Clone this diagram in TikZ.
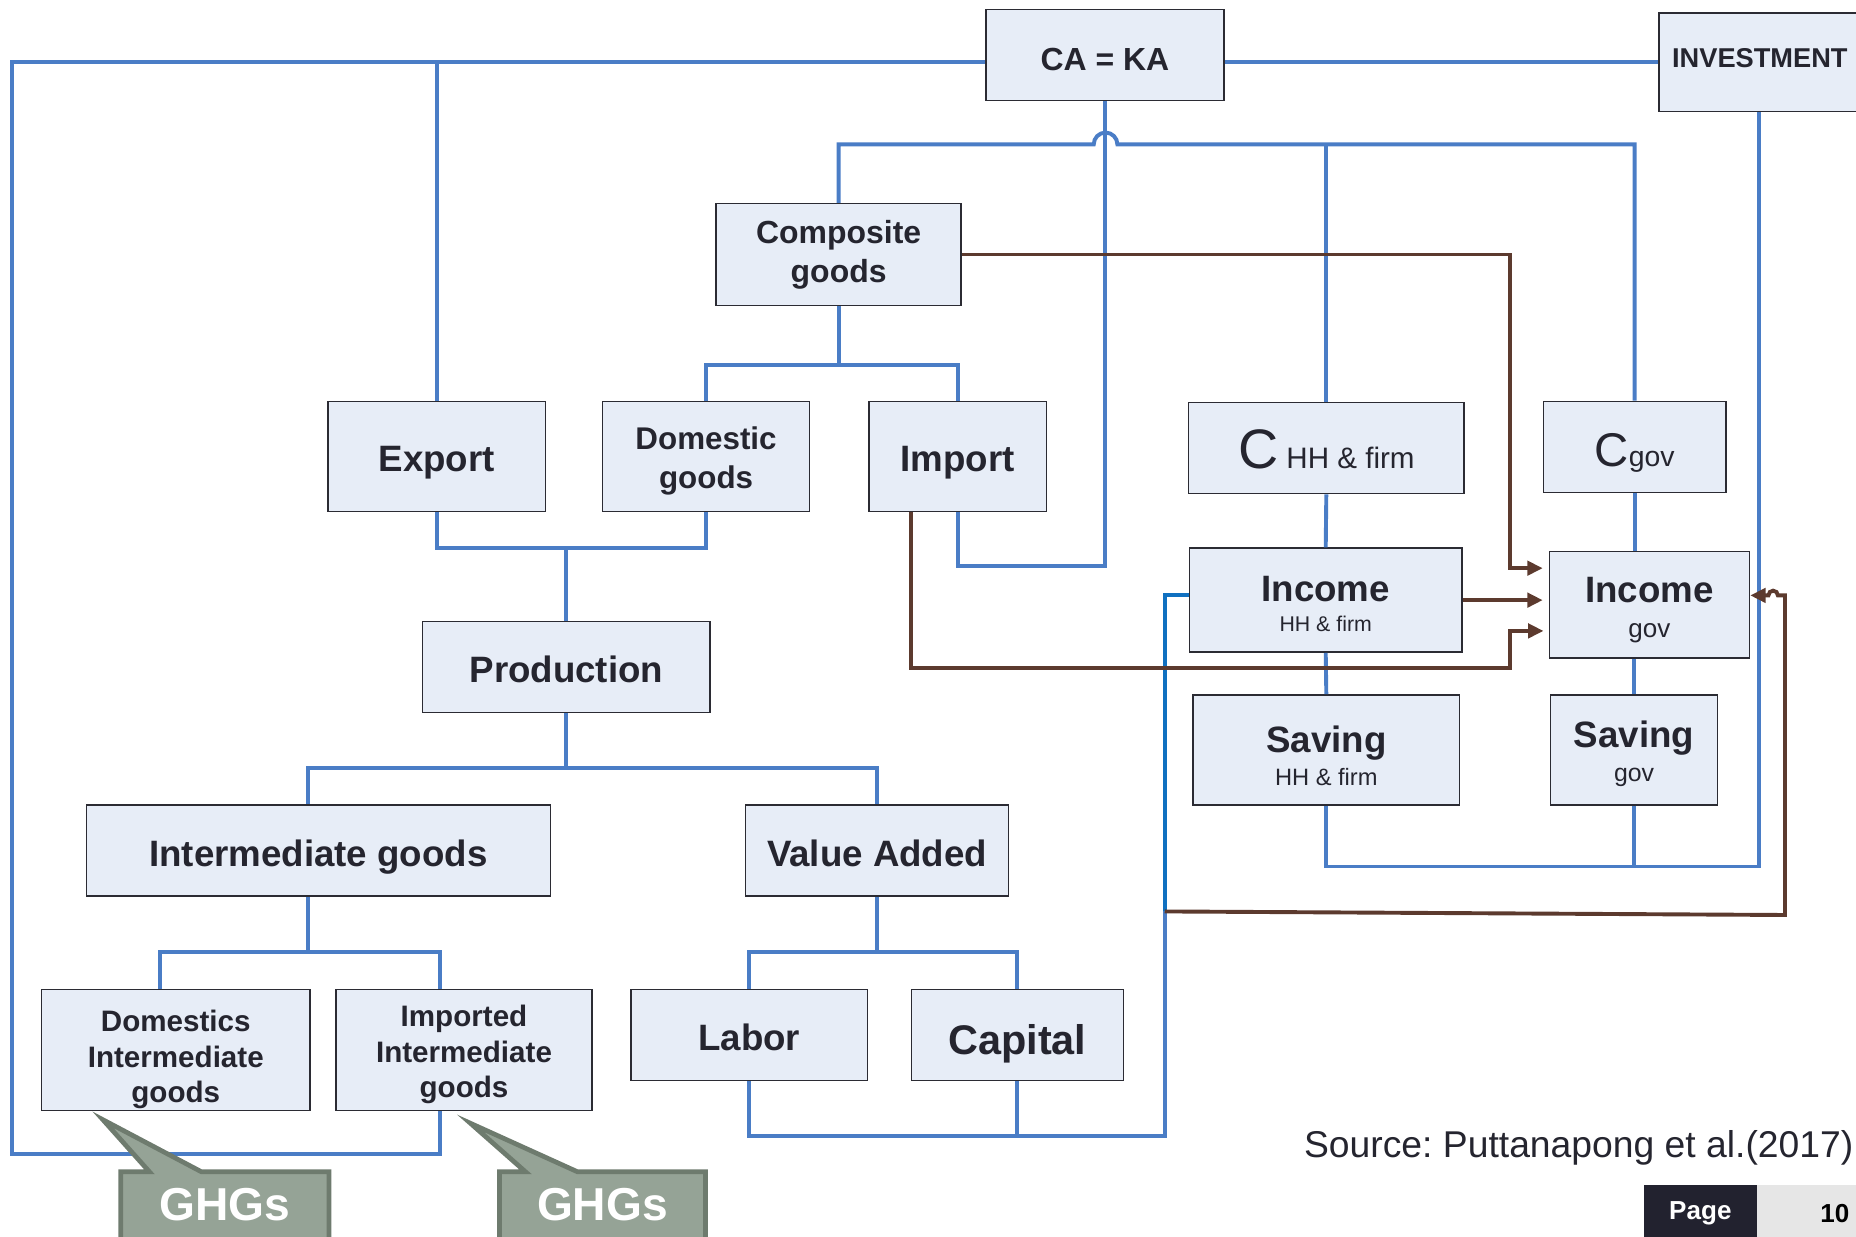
\documentclass[tikz,border=0pt]{standalone}
\usepackage{fontspec}
\setmainfont{Liberation Sans}
\usepackage{xcolor}
\usepackage{tikz}
\usetikzlibrary{arrows.meta,shapes.callouts}
\definecolor{boxfill}{HTML}{E7EDF7}
\definecolor{boxline}{HTML}{2B2B33}
\definecolor{linkblue}{HTML}{4A7DC6}
\definecolor{satblue}{HTML}{1070C0}
\definecolor{flowbrown}{HTML}{5C3A2E}
\definecolor{txt}{HTML}{25252F}
\definecolor{ghgfill}{HTML}{95A396}
\definecolor{ghgline}{HTML}{6E7B6E}
\definecolor{pagedark}{HTML}{22222F}
\definecolor{pagelight}{HTML}{E6E6E6}
\newcommand{\fsz}[2]{\fontsize{#1}{#2}\selectfont}
\newcommand{\pad}[1]{\rule{0pt}{#1pt}}
\frenchspacing

\begin{document}
\begin{tikzpicture}[x=1pt,y=-1pt,
	box/.style={draw=boxline,fill=boxfill,line width=1.3pt,inner sep=0pt,align=center,text=txt,font=\bfseries},
	link/.style={draw=linkblue,line width=3.3pt},
	flow/.style={draw=flowbrown,line width=3.3pt,-{Triangle[length=13pt,width=12pt]},shorten >=5pt},
	ghg/.style={rectangle callout,draw=ghgline,fill=ghgfill,line width=4pt,minimum width=176pt,minimum height=60pt,callout pointer width=44pt,text=white,font=\fsz{39}{42}\bfseries}]
	\useasboundingbox (0,0) rectangle (1568,1045);
	\clip (0,0) rectangle (1568,1045);
	\node[box,minimum width=201pt,minimum height=77pt,text height=25.6pt,text depth=0pt,font=\fsz{27}{30}\bfseries] (caka) at (933.5,46.5) {CA = KA};
	\node[box,anchor=west,text width=178pt,align=left,inner xsep=11pt,minimum height=83pt,text height=8.4pt,text depth=0pt,font=\fsz{23}{26}\bfseries] (invest) at (1401,52.5) {INVESTMENT};
	\node[box,minimum width=207pt,minimum height=86pt,font=\fsz{27}{33}\bfseries] (comp) at (708.5,215) {Composite\\goods};
	\node[box,minimum width=184pt,minimum height=93pt,text height=25.6pt,text depth=0pt,font=\fsz{31}{34}\bfseries] (export) at (369,385.5) {Export};
	\node[box,minimum width=175pt,minimum height=93pt,font=\fsz{26.5}{33}\bfseries] (domg) at (596.5,385.5) {\pad{27.3}Domestic\\goods};
	\node[box,minimum width=150pt,minimum height=93pt,text height=25.6pt,text depth=0pt,font=\fsz{31}{34}\bfseries] (import) at (809,385.5) {Import};
	\node[box,minimum width=233pt,minimum height=77pt,text height=34.2pt,text depth=0pt,font=\mdseries] (chh) at (1120.5,378.5) {{\fsz{47}{50}C}{\fsz{25}{28} HH \& firm}};
	\node[box,minimum width=154pt,minimum height=77pt,text height=32.4pt,text depth=0pt,font=\mdseries] (cgov) at (1381,377.5) {{\fsz{40}{44}C}{\fsz{24}{28}gov}};
	\node[box,minimum width=230pt,minimum height=88pt,font=\fsz{18}{25.4}] (inchh) at (1120,507) {{\fsz{31}{25.4}\bfseries\pad{28.6}Income}\\HH \& firm};
	\node[box,minimum width=169pt,minimum height=90pt,font=\fsz{22}{29.3}] (incgov) at (1393.5,511) {{\fsz{31}{29.3}\bfseries\pad{30.6}Income}\\gov};
	\node[box,minimum width=225pt,minimum height=93pt,font=\fsz{20}{28.3}] (savhh) at (1120.5,633.5) {{\fsz{31}{28.3}\bfseries\pad{32.9}Saving}\\HH \& firm};
	\node[box,minimum width=141pt,minimum height=93pt,font=\fsz{21}{29.3}] (savgov) at (1380.5,633.5) {{\fsz{31}{29.3}\bfseries\pad{28.9}Saving}\\gov};
	\node[box,minimum width=243pt,minimum height=77pt,text height=27pt,text depth=0pt,font=\fsz{31}{34}\bfseries] (prod) at (478.5,563.5) {Production};
	\node[box,minimum width=392pt,minimum height=77pt,text height=27pt,text depth=0pt,font=\fsz{31}{34}\bfseries] (interm) at (269,718.5) {Intermediate goods};
	\node[box,minimum width=222pt,minimum height=77pt,text height=27pt,text depth=0pt,font=\fsz{31}{34}\bfseries] (va) at (741,718.5) {Value Added};
	\node[box,minimum width=227pt,minimum height=102pt,font=\fsz{25}{30}\bfseries] (domi) at (148.5,887) {\pad{34.3}Domestics\\Intermediate\\goods};
	\node[box,minimum width=216pt,minimum height=102pt,font=\fsz{25}{30}\bfseries] (impi) at (392,887) {\pad{26.3}Imported\\Intermediate\\goods};
	\node[box,minimum width=200pt,minimum height=77pt,text height=26.6pt,text depth=0pt,font=\fsz{31}{34}\bfseries] (labor) at (633,874.5) {Labor};
	\node[box,minimum width=179pt,minimum height=77pt,text height=32pt,text depth=0pt,font=\fsz{35}{38}\bfseries] (capital) at (859.5,874.5) {Capital};
	\node[anchor=base east,inner sep=0pt,text=txt,font=\fsz{31.5}{34}] (src) at (1566,977.5) {Source: Puttanapong et al.(2017)};
	\node[fill=pagedark,minimum width=95pt,minimum height=48pt,inner sep=0pt,text=white,font=\fsz{22}{24}\bfseries] (pagelbl) at (1436.5,1025) {Page};
	\node[fill=pagelight,anchor=west,minimum height=48pt,text width=72pt,inner xsep=6pt,align=right,text=black,font=\fsz{22}{24}\bfseries] (pagenum) at (pagelbl.east) {10};
	\coordinate (lc) at (10,52.5);
	\coordinate (lb) at (10,975);
	\coordinate (hopl) at (924,122);
	\coordinate (j3) at (933.5,478);
	\coordinate (ib) at (1486,732);
	\coordinate (y1) at (0,308);
	\coordinate (y2) at (0,463);
	\coordinate (y3) at (0,649);
	\coordinate (y4) at (0,804);
	\coordinate (kb) at (984,960);
	\coordinate (km) at (984,770);
	\coordinate (kr) at (1508,773);
	\coordinate (hr) at (1508,503);
	\coordinate (ba) at (1276,480);
	\coordinate (bc) at (1276,564);
	\coordinate (bd) at (1309,533);
	\coordinate (impin) at ([xshift=-20pt]impi.north);
	\draw[link] (invest.west) -- (invest.west -| caka.east);
	\draw[link] (invest.west -| caka.west) -- (lc) -- (lb) -| ([xshift=-20pt]impi.south);
	\draw[link] (export.north |- lc) -- (export.north);
	\draw[link] (caka.south) -- (j3) -| (import.south);
	\draw[link] (comp.north) |- (hopl) arc[start angle=180,end angle=0,radius=10pt] -| (cgov.north);
	\draw[link] (chh.north |- hopl) -- (chh.north);
	\draw[link] (comp.south) -- (comp.south |- y1);
	\draw[link] (domg.north) |- (y1 -| import.north) -- (import.north);
	\draw[link] (export.south) |- (y2 -| domg.south) -- (domg.south);
	\draw[link] (prod.north) -- (prod.north |- y2);
	\draw[link] (prod.south) -- (prod.south |- y3);
	\draw[link] ([xshift=-9pt]interm.north) |- (y3 -| va.north) -- (va.north);
	\draw[link] ([xshift=-9pt]interm.south) -- ([xshift=-9pt]interm.south |- y4);
	\draw[link] ([xshift=-13.5pt]domi.north) |- (y4 -| impin) -- (impin);
	\draw[link] (labor.north) |- (y4 -| capital.north) -- (capital.north);
	\draw[link] (va.south) -- (va.south |- y4);
	\draw[link] (labor.south) |- (kb) -- (km);
	\draw[link] (capital.south) -- (capital.south |- kb);
	\draw[link,draw=satblue] (km) |- ([yshift=4pt]inchh.west);
	\draw[link] (chh.south) -- (inchh.north);
	\draw[link] (inchh.south) -- (savhh.north);
	\draw[link] (cgov.south) -- (cgov.south |- incgov.north);
	\draw[link] (savgov.north |- incgov.south) -- (savgov.north);
	\draw[link] (invest.south -| ib) -- (ib) -| (savhh.south);
	\draw[link] (savgov.south) -- (savgov.south |- ib);
	\draw[flow] (comp.east) -| (ba) -- (ba -| incgov.west);
	\draw[flow] (inchh.east) -- (inchh.east -| incgov.west);
	\draw[flow] ([xshift=-39pt]import.south) |- (bc) |- (bd);
	\draw[flow,shorten >=0pt] (km) -- (kr) -- (hr) -- ++(-6,0) arc[start angle=0,end angle=180,radius=4pt] -- (incgov.east |- hr);
	\node[ghg,callout absolute pointer={(87,946)}] (ghga) at (190,1020) {\raisebox{5pt}{GHGs}};
	\node[ghg,callout absolute pointer={(397.5,949)},minimum width=174pt] (ghgb) at (509,1020) {\raisebox{5pt}{GHGs}};
\end{tikzpicture}
\end{document}
